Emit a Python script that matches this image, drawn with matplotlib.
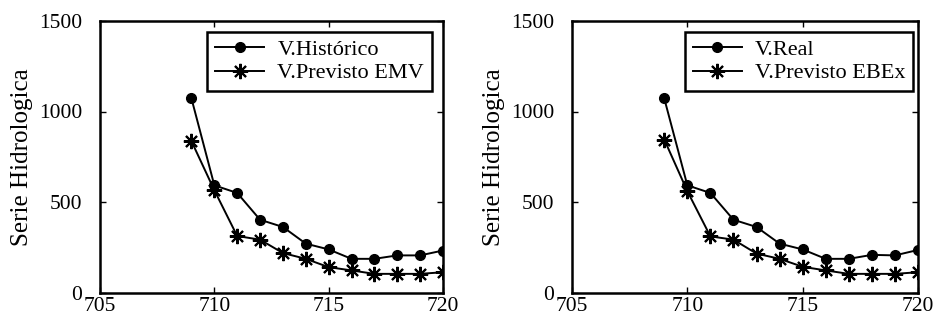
import matplotlib
matplotlib.use("Agg")
import matplotlib.pyplot as plt

plt.rcParams['font.family'] = ['Liberation Serif', 'DejaVu Serif']

# eixo x (periodos)
x = [709, 710, 711, 712, 713, 714, 715, 716, 717, 718, 719, 720]

# grafico esquerdo
historico = [1072, 592, 550, 402, 362, 270, 238, 186, 186, 205, 205, 232]
previsto_emv = [836, 565, 312, 292, 218, 186, 140, 122, 103, 103, 103, 112]

# grafico direito
real = [1072, 592, 550, 402, 362, 270, 238, 186, 186, 208, 205, 235]
previsto_ebex = [845, 560, 310, 292, 215, 186, 142, 122, 103, 103, 103, 112]

xticks = [705, 710, 715, 720]
yticks = [0, 500, 1000, 1500]

fig = plt.figure(figsize=(9.33, 3.26), dpi=100)
ax1 = fig.add_axes([100/933, 1-292.5/326, 343/933, 271.5/326])
ax2 = fig.add_axes([572/933, 1-292.5/326, 346/933, 271.5/326])

series = [(ax1, historico, previsto_emv, 'V.Histórico', 'V.Previsto EMV', 0.968),
          (ax2, real, previsto_ebex, 'V.Real', 'V.Previsto EBEx', 0.986)]

for ax, a, b, la, lb, lx in series:
    ax.plot(x, a, color='black', lw=1.4, marker='o', ms=7, label=la)
    ax.plot(x, b, color='black', lw=1.4, marker=(8, 2, 0), ms=11, mew=1.5, label=lb)
    ax.set_xlim(705, 720)
    ax.set_ylim(0, 1500)
    ax.set_xticks(xticks)
    ax.set_yticks(yticks)
    ax.tick_params(direction='in', top=True, right=True, length=4, width=1,
                   labelsize=15.5)
    ax.tick_params(axis='x', pad=3)
    ax.tick_params(axis='y', pad=13)
    for s in ax.spines.values():
        s.set_linewidth(1.8)
    ax.set_ylabel('Serie Hidrologica', fontsize=18, labelpad=4)
    leg = ax.legend(loc='upper right', fontsize=16, frameon=True, fancybox=False,
                    edgecolor='black', framealpha=1, borderpad=0.35,
                    handlelength=2.2, handletextpad=0.6, labelspacing=0.12,
                    borderaxespad=0, bbox_to_anchor=(lx, 0.96))
    leg.get_frame().set_linewidth(1.8)

fig.savefig('out.png', dpi=100)
